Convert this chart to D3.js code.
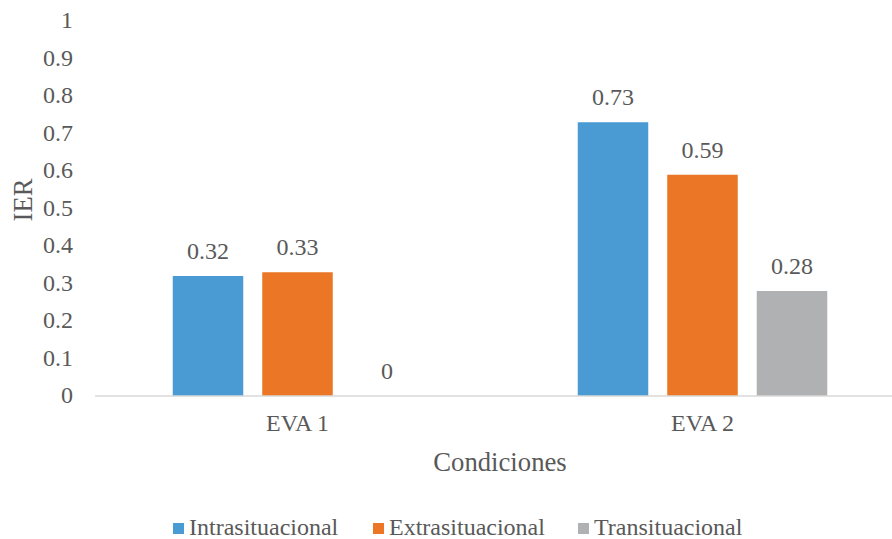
<!DOCTYPE html>
<html>
<head>
<meta charset="utf-8">
<script src="https://cdn.jsdelivr.net/npm/d3@7"></script>
<style>
  html, body { margin: 0; padding: 0; background: #fff; }
  svg { display: block; }
</style>
</head>
<body>
<svg id="chart" width="892" height="539"></svg>
<script>
// Data
const categories = ["EVA 1", "EVA 2"];
const seriesNames = ["Intrasituacional", "Extrasituacional", "Transituacional"];
const intrasituacional = [0.32, 0.73];
const extrasituacional = [0.33, 0.59];
const transituacional = [0, 0.28];
const yTicks = [0, 0.1, 0.2, 0.3, 0.4, 0.5, 0.6, 0.7, 0.8, 0.9, 1];
const seriesColors = ["#4A9AD4", "#EB7625", "#B0B1B3"];

const seriesValues = [intrasituacional, extrasituacional, transituacional];

const FONT = "'Liberation Serif', Tinos, 'Times New Roman', Times, 'DejaVu Serif', serif";
const TEXT = "#595959";

const svg = d3.select("#chart")
  .attr("font-family", FONT);
const W = 892, H = 539;

// Plot area
const plot = { left: 95, right: 905, top: 21, bottom: 396 };

const y = d3.scaleLinear().domain([0, 1]).range([plot.bottom, plot.top]);
const x0 = d3.scaleBand().domain(categories).range([plot.left, plot.right]).padding(0);
const groupPad = 77.75;
const x1 = d3.scaleBand()
  .domain(seriesNames)
  .range([groupPad, x0.bandwidth() - groupPad])
  .paddingInner(19 / 89.5)
  .paddingOuter(0);

// Y tick labels (no axis line, no gridlines)
svg.append("g")
  .selectAll("text")
  .data(yTicks)
  .join("text")
  .attr("x", 73)
  .attr("y", d => y(d) + 7)
  .attr("text-anchor", "end")
  .attr("font-size", 24)
  .attr("fill", TEXT)
  .text(d => String(+d.toFixed(1)));

// Bars
const groups = svg.append("g")
  .selectAll("g")
  .data(categories)
  .join("g")
  .attr("transform", c => `translate(${x0(c)},0)`);

const cells = (c, ci) => seriesNames.map((s, si) => ({ s, si, v: seriesValues[si][ci] }));

groups.selectAll("rect")
  .data(cells)
  .join("rect")
  .attr("x", d => x1(d.s))
  .attr("y", d => y(d.v))
  .attr("width", x1.bandwidth())
  .attr("height", d => y(0) - y(d.v))
  .attr("fill", d => seriesColors[d.si]);

// Value labels
groups.selectAll("text.val")
  .data(cells)
  .join("text")
  .attr("class", "val")
  .attr("x", d => x1(d.s) + x1.bandwidth() / 2)
  .attr("y", d => y(d.v) - 17)
  .attr("text-anchor", "middle")
  .attr("font-size", 24)
  .attr("fill", TEXT)
  .text(d => String(d.v));

// Category axis line
svg.append("line")
  .attr("x1", plot.left).attr("x2", plot.right)
  .attr("y1", y(0)).attr("y2", y(0))
  .attr("stroke", "#D9D9D9")
  .attr("stroke-width", 1.5);

// Category labels
svg.append("g")
  .selectAll("text")
  .data(categories)
  .join("text")
  .attr("x", c => x0(c) + x0.bandwidth() / 2)
  .attr("y", 431)
  .attr("text-anchor", "middle")
  .attr("font-size", 24)
  .attr("fill", TEXT)
  .text(c => c);

// Axis titles
svg.append("text")
  .attr("x", 500)
  .attr("y", 471)
  .attr("text-anchor", "middle")
  .attr("font-size", 26.7)
  .attr("fill", TEXT)
  .text("Condiciones");

svg.append("text")
  .attr("transform", "translate(32,200) rotate(-90)")
  .attr("text-anchor", "middle")
  .attr("font-size", 26.7)
  .attr("fill", TEXT)
  .text("IER");

// Legend
const legendX = [173, 373, 578];
const legend = svg.append("g")
  .selectAll("g")
  .data(seriesNames)
  .join("g")
  .attr("transform", (d, i) => `translate(${legendX[i]},0)`);

legend.append("rect")
  .attr("x", 0).attr("y", 523)
  .attr("width", 11).attr("height", 11)
  .attr("fill", (d, i) => seriesColors[i]);

legend.append("text")
  .attr("x", 16)
  .attr("y", 535)
  .attr("font-size", 24)
  .attr("fill", TEXT)
  .text(d => d);
</script>
</body>
</html>
